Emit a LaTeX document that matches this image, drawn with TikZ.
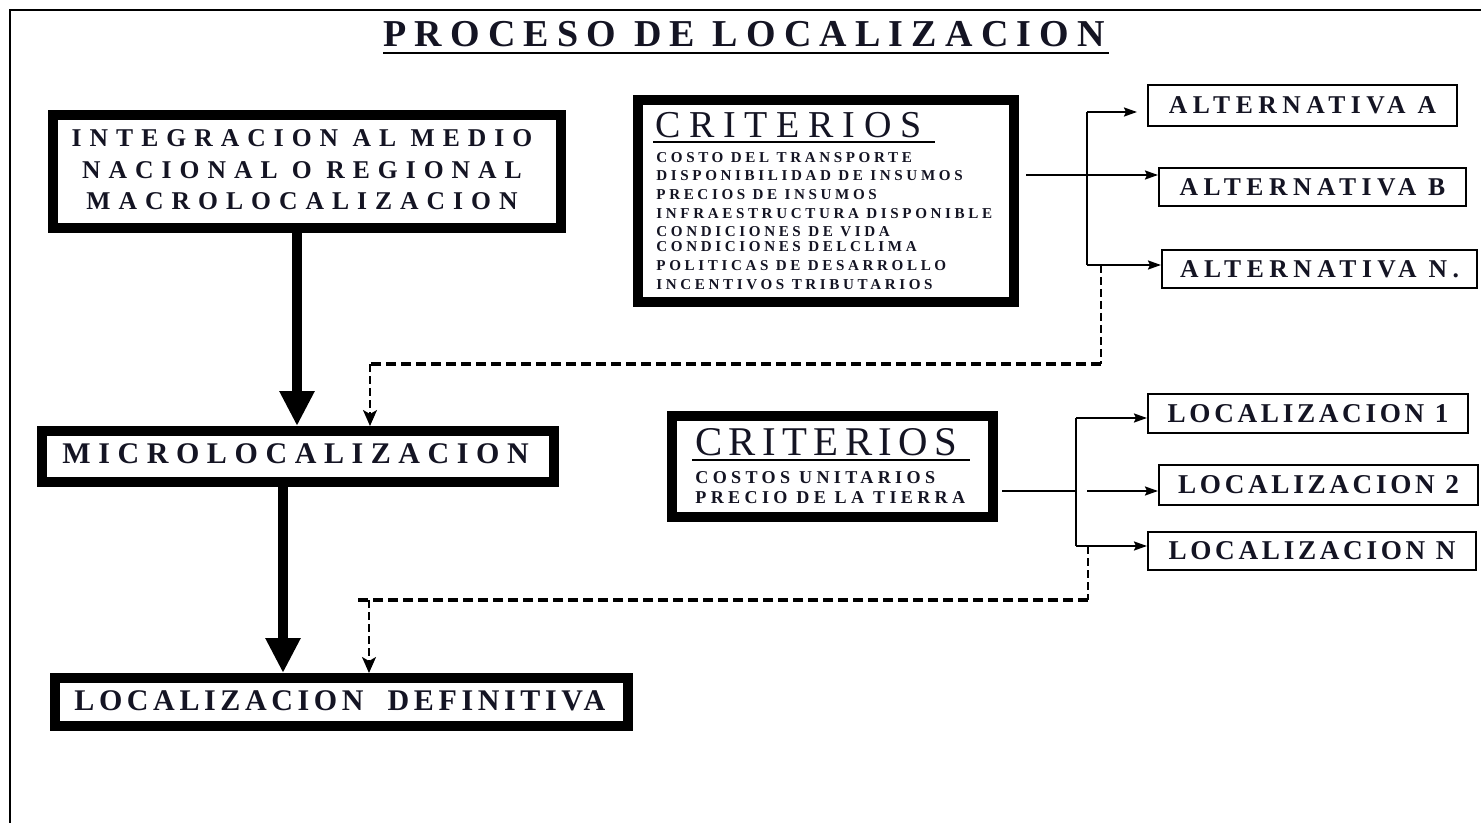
\documentclass[tikz,border=0pt]{standalone}
\usepackage{fontspec}
\setmainfont{Liberation Serif}
\usetikzlibrary{arrows.meta}
\newcommand\lspace[1]{\addfontfeature{LetterSpace=#1}}
\definecolor{ink}{RGB}{20,20,35}
\begin{document}
\begin{tikzpicture}[x=0.5pt,y=-0.5pt,
  thickbox/.style={draw=black, line width=5pt, fill=white, inner sep=0pt, text=ink},
  thinbox/.style={draw=black, line width=1pt, fill=white, inner sep=0pt, text=ink},
  bigarrow/.style={line width=5pt, -{Triangle[length=17.5pt,width=16.5pt]}},
  conn/.style={line width=1pt},
  connarrow/.style={line width=1pt, -{Stealth[length=6.5pt,width=4.5pt,inset=1pt]}},
  dashv/.style={line width=1pt, dash pattern=on 4pt off 2pt},
  dashh/.style={line width=2pt, dash pattern=on 5pt off 2.5pt},
  dasharrow/.style={dashv, -{Stealth[length=8pt,width=7pt,inset=2pt]}},
  lbl/.style={text=ink, inner sep=0pt, anchor=base west},
  altfont/.style={font=\bfseries\fontsize{12.8pt}{15pt}\selectfont\lspace{21.5}},
  locfont/.style={font=\bfseries\fontsize{13.6pt}{16pt}\selectfont\lspace{13.6}},
  crititem/.style={font=\bfseries\fontsize{7.55pt}{8pt}\selectfont\lspace{24}},
  crititemb/.style={font=\bfseries\fontsize{9.05pt}{10pt}\selectfont\lspace{24}},
]
\useasboundingbox (0,0) rectangle (1481,823);
\fill[white] (0,0) rectangle (1481,823);
\draw[line width=1pt] (10,823) -- (10,10) -- (1481,10);

% title
\node[lbl, font=\bfseries\fontsize{19pt}{22pt}\selectfont\lspace{21.6}] (title) at (383,47) {PROCESO DE LOCALIZACION};
\draw[line width=1.2pt] ([yshift=-3pt]title.base west) -- ([yshift=-3pt,xshift=2pt]title.base east);

% main column
\node[thickbox, minimum width=254pt, minimum height=56.5pt] (macro) at (307,171.5) {};
\node[text=ink, inner sep=0pt, align=center,
      font=\bfseries\fontsize{12.8pt}{15.8pt}\selectfont\lspace{31.3}] (macrotxt) at (302,170)
      {INTEGRACION AL MEDIO\\NACIONAL O REGIONAL\\MACROLOCALIZACION};
\node[thickbox, minimum width=256pt, minimum height=25.5pt] (micro) at (298,456.5) {};
\node[lbl, font=\bfseries\fontsize{15pt}{18pt}\selectfont\lspace{25.3}] (microtxt) at (62,463) {MICROLOCALIZACION};
\node[thickbox, minimum width=286.5pt, minimum height=24pt] (locdef) at (341.5,702) {};
\node[lbl, font=\bfseries\fontsize{15pt}{18pt}\selectfont\lspace{15.4}] (locdeftxt) at (74,710) {LOCALIZACION \hspace{6pt}DEFINITIVA};

% criterios 1
\node[thickbox, minimum width=188pt, minimum height=101pt] (crit1) at (826,201) {};
\node[lbl, font=\fontsize{19pt}{22pt}\selectfont\lspace{23}] (c1t) at (655,138) {CRITERIOS};
\draw[line width=1pt] (653,142.5) -- (935,142.5);
\node[lbl, crititem] (c1a) at (656,162.7) {COSTO DEL TRANSPORTE};
\node[lbl, crititem] (c1b) at (656,180.7) {DISPONIBILIDAD DE INSUMOS};
\node[lbl, crititem] (c1c) at (656,200) {PRECIOS DE INSUMOS};
\node[lbl, crititem] (c1d) at (656,218.3) {INFRAESTRUCTURA DISPONIBLE};
\node[lbl, crititem] (c1e) at (656,236.7) {CONDICIONES DE VIDA};
\node[lbl, crititem] (c1f) at (656,251.7) {CONDICIONES DELCLIMA};
\node[lbl, crititem] (c1g) at (656,270.7) {POLITICAS DE DESARROLLO};
\node[lbl, crititem] (c1h) at (656,289.3) {INCENTIVOS TRIBUTARIOS};

% criterios 2
\node[thickbox, minimum width=160.5pt, minimum height=50.5pt] (crit2) at (832.5,466.5) {};
\node[lbl, font=\fontsize{20.4pt}{22pt}\selectfont\lspace{15.6}] (c2t) at (695,455) {CRITERIOS};
\draw[line width=1pt] (692,459.5) -- (970,459.5);
\node[lbl, crititemb] (c2a) at (695,483) {COSTOS UNITARIOS};
\node[lbl, crititemb] (c2b) at (695,503) {PRECIO DE LA TIERRA};

% alternativas
\node[thinbox, minimum width=154.5pt, minimum height=20.5pt, altfont] (altA) at (1302.5,105.5) {ALTERNATIVA A};
\node[thinbox, minimum width=153.5pt, minimum height=19pt, altfont] (altB) at (1312.5,187) {ALTERNATIVA B};
\node[thinbox, minimum width=157.5pt, minimum height=19pt, altfont] (altN) at (1319.5,269) {ALTERNATIVA N.};

% localizaciones
\node[thinbox, minimum width=160pt, minimum height=19.5pt, locfont] (loc1) at (1308,413.5) {LOCALIZACION 1};
\node[thinbox, minimum width=159.5pt, minimum height=20pt, locfont] (loc2) at (1318.5,485) {LOCALIZACION 2};
\node[thinbox, minimum width=164pt, minimum height=19pt, locfont] (locN) at (1312,551) {LOCALIZACION N};

% helper coordinates
\coordinate (ax1) at (297,0);
\coordinate (ax2) at (283,0);
\coordinate (c1src) at (1026,175);
\coordinate (bus1top) at (1087,112);
\coordinate (bus1bot) at (1087,265);
\coordinate (c2src) at (1002,491);
\coordinate (bus2top) at (1076,418);
\coordinate (bus2mid) at (1076,491);
\coordinate (bus2bot) at (1076,546);
\coordinate (c2gap) at (1087,491);
\coordinate (d1a) at (1101,265);
\coordinate (d1b) at (1101,364);
\coordinate (d1c) at (370,364);
\coordinate (d2a) at (1088,546);
\coordinate (d2b) at (1088,600);
\coordinate (d2c) at (357,600);
\coordinate (d2d) at (369,600);

% thick arrows
\draw[bigarrow] (macro.south -| ax1) -- (micro.north -| ax1);
\draw[bigarrow] (micro.south -| ax2) -- (locdef.north -| ax2);

% connectors criterios 1
\draw[connarrow] (c1src) -- (altB.west |- c1src);
\draw[conn] (bus1top) -- (bus1bot);
\draw[connarrow, shorten >=5pt] (bus1top) -- (altA.west |- bus1top);
\draw[connarrow] (bus1bot) -- (altN.west |- bus1bot);

% connectors criterios 2
\draw[conn] (c2src) -- (bus2mid);
\draw[conn] (bus2top) -- (bus2bot);
\draw[connarrow] (bus2top) -- (loc1.west |- bus2top);
\draw[connarrow] (c2gap) -- (loc2.west |- c2gap);
\draw[connarrow] (bus2bot) -- (locN.west |- bus2bot);

% dashed feedback
\draw[dashv] (d1a) -- (d1b);
\draw[dashh] (d1b) -- (d1c);
\draw[dasharrow] (d1c) -- (micro.north -| d1c);
\draw[dashv] (d2a) -- (d2b);
\draw[dashh] (d2b) -- (d2c);
\draw[dasharrow] (d2d) -- (locdef.north -| d2d);
\end{tikzpicture}
\end{document}
